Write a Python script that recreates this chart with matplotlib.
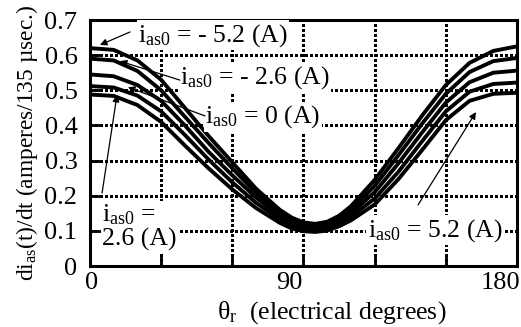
import matplotlib
matplotlib.use('Agg')
import matplotlib.pyplot as plt
import matplotlib.transforms as mtransforms

plt.rcParams['font.family'] = ['Liberation Serif', 'DejaVu Serif']
plt.rcParams['mathtext.fontset'] = 'custom'
plt.rcParams['mathtext.rm'] = 'Liberation Serif'
plt.rcParams['mathtext.it'] = 'Liberation Serif:italic'

# rotor angle (electrical degrees)
theta = [0, 10, 20, 30, 40, 50, 60, 70, 80, 85, 90, 95, 100, 105, 110, 120, 130, 140, 150, 160, 170, 180]

# di/dt for the five initial currents (amperes / 135 usec)
i_m52 = [0.620, 0.615, 0.585, 0.530, 0.450, 0.370, 0.295, 0.220, 0.160, 0.138, 0.124, 0.120, 0.126, 0.143, 0.170, 0.245, 0.335, 0.428, 0.515, 0.578, 0.612, 0.625]
i_m26 = [0.590, 0.585, 0.555, 0.500, 0.425, 0.350, 0.278, 0.208, 0.152, 0.130, 0.118, 0.115, 0.120, 0.136, 0.160, 0.228, 0.315, 0.405, 0.490, 0.552, 0.583, 0.592]
i_0 = [0.545, 0.540, 0.515, 0.470, 0.400, 0.325, 0.258, 0.195, 0.142, 0.123, 0.112, 0.109, 0.114, 0.128, 0.150, 0.210, 0.292, 0.380, 0.465, 0.523, 0.550, 0.556]
i_p26 = [0.512, 0.508, 0.485, 0.440, 0.373, 0.303, 0.238, 0.180, 0.133, 0.115, 0.105, 0.103, 0.108, 0.121, 0.140, 0.192, 0.268, 0.355, 0.440, 0.496, 0.518, 0.522]
i_p52 = [0.488, 0.484, 0.458, 0.410, 0.343, 0.278, 0.218, 0.165, 0.123, 0.107, 0.099, 0.097, 0.101, 0.113, 0.130, 0.175, 0.247, 0.330, 0.415, 0.470, 0.490, 0.493]

x_ticks = [0, 30, 60, 90, 120, 150, 180]
x_ticklabels = ['0', '', '', '90', '', '', '180']
y_ticks = [0, 0.1, 0.2, 0.3, 0.4, 0.5, 0.6, 0.7]
y_ticklabels = ['0', '0.1', '0.2', '0.3', '0.4', '0.5', '0.6', '0.7']

fig = plt.figure(figsize=(5.21, 3.27), dpi=100)
ax = fig.add_axes([0.1727, 0.1865, 0.8196, 0.7523])

ax.set_xlim(0, 180)
ax.set_ylim(0, 0.7)

for ys in [i_m52, i_m26, i_0, i_p26, i_p52]:
    ax.plot(theta, ys, color='black', linewidth=2.8, solid_joinstyle='round', zorder=3)

ax.set_xticks(x_ticks)
ax.set_xticklabels(x_ticklabels, fontsize=19)
ax.set_yticks(y_ticks)
ax.set_yticklabels(y_ticklabels, fontsize=19)
ax.tick_params(direction='in', length=7, width=2, pad=4)
ax.tick_params(axis='y', pad=9)
ax.grid(True, color='black', linestyle=(0, (1, 0.9)), linewidth=2.0, antialiased=False)
for s in ax.spines.values():
    s.set_linewidth(2.2)

# nudge the x tick labels like in the original
offs = [2, -14, -17]
for lab, dx in zip([l for l in ax.get_xticklabels() if l.get_text()], offs):
    lab.set_transform(lab.get_transform() + mtransforms.ScaledTranslation(dx / 100, 0, fig.dpi_scale_trans))

ax.set_xlabel(r'θ$_{\rm r}$  (electrical degrees)', fontsize=18.5)
ax.xaxis.set_label_coords(0.565, -0.135)
ax.set_ylabel(r'di$_{\rm as}$(t)/dt (amperes/135 µsec.)', fontsize=16.8, labelpad=3)

box = dict(facecolor='white', edgecolor='none', pad=1)
ax.text(20.2, 0.657, r'i$_{\rm as0}$ = - 5.2 (A)', fontsize=18.5, va='center', bbox=box, zorder=4)
ax.text(37.9, 0.535, r'i$_{\rm as0}$ = - 2.6 (A)', fontsize=18.5, va='center', bbox=box, zorder=4)
ax.text(48.5, 0.424, r'i$_{\rm as0}$ = 0 (A)', fontsize=18.5, va='center', bbox=box, zorder=4)
ax.text(5.2, 0.112, 'i$_{\\rm as0}$ =\n2.6 (A)', fontsize=18.5, va='center', bbox=box, zorder=4,
        linespacing=1.0)
ax.text(117, 0.102, r'i$_{\rm as0}$ = 5.2 (A)', fontsize=18.5, va='center', bbox=box, zorder=4)

arrow = dict(arrowstyle='-|>', color='black', lw=0.9, mutation_scale=10, shrinkA=0, shrinkB=0)
ax.annotate('', xy=(4.2, 0.629), xytext=(16.9, 0.666), arrowprops=arrow, zorder=5)
ax.annotate('', xy=(12.6, 0.583), xytext=(37.9, 0.529), arrowprops=arrow, zorder=5)
ax.annotate('', xy=(16.0, 0.509), xytext=(48.5, 0.427), arrowprops=arrow, zorder=5)
ax.annotate('', xy=(11.4, 0.487), xytext=(5.1, 0.208), arrowprops=arrow, zorder=5)
ax.annotate('', xy=(162.7, 0.438), xytext=(138.3, 0.174), arrowprops=arrow, zorder=5)

fig.savefig('out.png', dpi=100)
